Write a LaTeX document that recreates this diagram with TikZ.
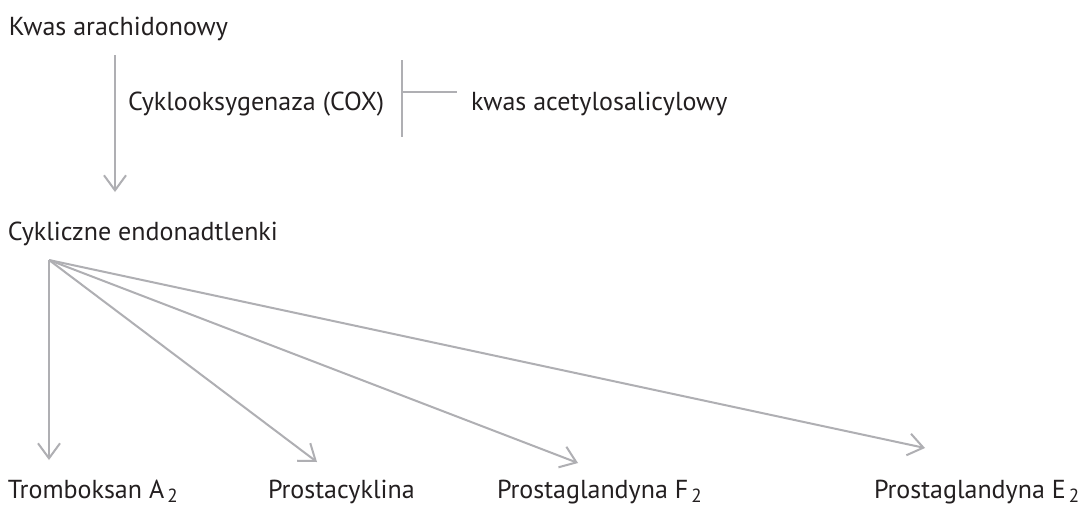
\documentclass[tikz,border=0pt]{standalone}
\usepackage{fontspec}
\setmainfont{PT Sans}
\usetikzlibrary{arrows.meta}
\definecolor{txt}{HTML}{231F20}
\definecolor{ln}{HTML}{AFAFB3}
\tikzset{
  lbl/.style={anchor=base west, inner sep=0pt, outer sep=0pt, text=txt, font=\fontsize{26}{29}\selectfont},
  conn/.style={draw=ln, line width=2pt, -{Straight Barb[length=15pt,width=22pt,line width=2pt]}},
  inhib/.style={draw=ln, line width=1.4pt}
}
\newcommand{\subtwo}{\hspace{0.12em}\raisebox{-0.18em}{\fontsize{19}{19}\selectfont 2}}
\begin{document}
\begin{tikzpicture}[x=1pt,y=-1pt]
\useasboundingbox[fill=white] (0,0) rectangle (1084,509);
% texts
\node[lbl] (ka) at (9,35) {Kwas arachidonowy};
\node[lbl] (cox) at (128,110.5) {Cyklooksygenaza (COX)};
\node[lbl] (asa) at (471,110.5) {kwas acetylosalicylowy};
\node[lbl] (ce) at (8,240) {Cykliczne endonadtlenki};
\node[lbl] (tx) at (8,498) {Tromboksan A\subtwo};
\node[lbl] (pc) at (268,498) {Prostacyklina};
\node[lbl] (pf) at (497,498) {Prostaglandyna F\subtwo};
\node[lbl] (pe) at (874,498) {Prostaglandyna E\subtwo};
% coordinates
\coordinate (a0) at (115,55);
\coordinate (a1) at (115,192);
\coordinate (bt) at (402,60);
\coordinate (bb) at (402,137);
\coordinate (bm) at (402,92);
\coordinate (be) at (457,92);
\coordinate (fan) at (49,260);
\coordinate (t1) at (49,460);
\coordinate (t2) at (317,462);
\coordinate (t3) at (578,463);
\coordinate (t4) at (925,448);
% connectors
\draw[conn] (a0) -- (a1);
\draw[inhib] (bt) -- (bb);
\draw[inhib] (bm) -- (be);
\draw[conn] (fan) -- (t1);
\draw[conn] (fan) -- (t2);
\draw[conn] (fan) -- (t3);
\draw[conn] (fan) -- (t4);
\end{tikzpicture}
\end{document}
